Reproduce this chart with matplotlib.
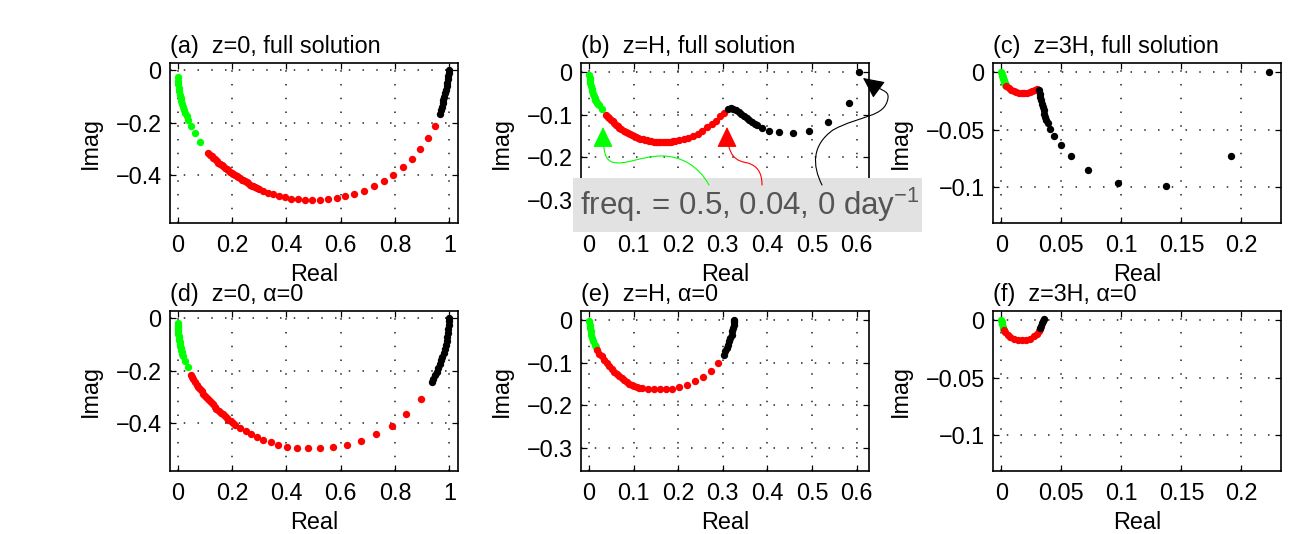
import matplotlib
matplotlib.use("Agg")
import matplotlib.pyplot as plt
from matplotlib.path import Path
from matplotlib.patches import FancyArrowPatch, Rectangle
from matplotlib.ticker import FixedLocator, FixedFormatter

plt.rcParams['font.family'] = ['Liberation Sans', 'DejaVu Sans']
plt.rcParams['mathtext.fontset'] = 'custom'
plt.rcParams['mathtext.rm'] = 'Liberation Sans'
plt.rcParams['mathtext.it'] = 'Liberation Sans:italic'
plt.rcParams['mathtext.bf'] = 'Liberation Sans:bold'

# ---------------------------------------------------------------- data
# (a) z=0, full solution
a_green_re = [0.000, 0.001, 0.002, 0.004, 0.006, 0.008, 0.011, 0.014, 0.017, 0.021, 0.025, 0.029, 0.033,
              0.038, 0.049, 0.063, 0.083]
a_green_im = [-0.027, -0.040, -0.053, -0.066, -0.080, -0.093, -0.106, -0.118, -0.129, -0.141, -0.152, -0.162, -0.173,
              -0.190, -0.212, -0.238, -0.273]
a_red_re = [0.113, 0.119, 0.125, 0.131, 0.137, 0.1435, 0.150, 0.156, 0.162, 0.168, 0.174, 0.180, 0.186, 0.1925,
            0.199, 0.205, 0.211, 0.217, 0.223, 0.2295, 0.236, 0.242, 0.248, 0.254, 0.260, 0.266, 0.272, 0.2785,
            0.285, 0.292, 0.299, 0.315, 0.334, 0.352, 0.373, 0.395, 0.418, 0.443, 0.469, 0.496, 0.524, 0.555,
            0.585, 0.617, 0.650, 0.685, 0.722, 0.759, 0.794, 0.828, 0.863, 0.893, 0.920, 0.946]
a_red_im = [-0.315, -0.3215, -0.328, -0.334, -0.340, -0.346, -0.352, -0.357, -0.362, -0.367, -0.372, -0.377, -0.382,
            -0.3865, -0.391, -0.3955, -0.400, -0.4045, -0.409, -0.413, -0.417, -0.4205, -0.424, -0.428, -0.432,
            -0.436, -0.440, -0.443, -0.446, -0.450, -0.454, -0.462, -0.468, -0.474, -0.479, -0.485, -0.490, -0.493,
            -0.495, -0.495, -0.495, -0.492, -0.487, -0.481, -0.472, -0.459, -0.442, -0.422, -0.398, -0.370, -0.338,
            -0.301, -0.259, -0.213]
a_black_re = [0.966, 0.969, 0.972, 0.975, 0.978, 0.981, 0.984, 0.987, 0.990, 0.992, 0.995, 0.997, 0.999, 1.000]
a_black_im = [-0.165, -0.152, -0.139, -0.126, -0.113, -0.100, -0.087, -0.074, -0.061, -0.048, -0.035, -0.022,
              -0.010, 0.000]

# (b) z=H, full solution
b_green_re = [0.0007, 0.0014, 0.0022, 0.0033, 0.0045, 0.0059, 0.0074, 0.0089, 0.0105, 0.0123, 0.0142, 0.0160,
              0.0180, 0.0205, 0.0231, 0.0285]
b_green_im = [-0.0057, -0.0124, -0.0190, -0.0257, -0.0324, -0.0387, -0.0450, -0.0505, -0.0560, -0.0608, -0.0655,
              -0.0687, -0.0718, -0.0749, -0.0780, -0.0875]
b_red_re = [0.0381, 0.0418, 0.0456, 0.0493, 0.0531, 0.0568, 0.0605, 0.0642, 0.0680, 0.0728, 0.0777, 0.0822,
            0.0867, 0.0912, 0.0957, 0.1005, 0.1054, 0.1102, 0.1151, 0.1203, 0.1256, 0.1305, 0.1353, 0.1400,
            0.1450, 0.1500, 0.1554, 0.1603, 0.1652, 0.1700, 0.1749, 0.1794, 0.1839, 0.1888, 0.1936, 0.2025,
            0.2123, 0.2227, 0.2332, 0.2437, 0.2527, 0.2639, 0.2751, 0.2848, 0.2937, 0.3027]
b_red_im = [-0.1002, -0.1041, -0.1080, -0.1119, -0.1158, -0.1194, -0.1230, -0.1265, -0.1300, -0.1336, -0.1371,
            -0.1400, -0.1428, -0.1452, -0.1475, -0.1499, -0.1522, -0.1541, -0.1560, -0.1577, -0.1593, -0.1605,
            -0.1617, -0.1624, -0.1631, -0.1636, -0.1641, -0.1641, -0.1641, -0.1641, -0.1641, -0.1636, -0.1631,
            -0.1624, -0.1617, -0.1593, -0.1570, -0.1537, -0.1499, -0.1445, -0.1371, -0.1293, -0.1215, -0.1135,
            -0.1040, -0.0955]
b_black_re = [0.3124, 0.3177, 0.3236, 0.3296, 0.3356, 0.3415, 0.3475, 0.3536, 0.3595, 0.3655, 0.3715, 0.3774,
              0.3879, 0.4043, 0.4267, 0.4567, 0.4926, 0.5366, 0.5823, 0.6047]
b_black_im = [-0.0860, -0.0844, -0.0860, -0.0898, -0.0946, -0.0993, -0.1040, -0.1087, -0.1128, -0.1168, -0.1206,
              -0.1246, -0.1317, -0.1371, -0.1411, -0.1428, -0.1371, -0.1175, -0.0726, 0.0000]

# (c) z=3H, full solution
c_green_re = [0.0000, 0.0003, 0.0006, 0.0010, 0.0014, 0.0018, 0.0022, 0.0027, 0.0033, 0.0038]
c_green_im = [0.0000, -0.0015, -0.0029, -0.0044, -0.0058, -0.0071, -0.0084, -0.0096, -0.0107, -0.0112]
c_red_re = [0.0042, 0.0061, 0.0081, 0.0103, 0.0125, 0.0147, 0.0169, 0.0192, 0.0214, 0.0236, 0.0258, 0.0281, 0.0300]
c_red_im = [-0.0116, -0.0135, -0.0152, -0.0165, -0.0174, -0.0180, -0.0183, -0.0183, -0.0180, -0.0174, -0.0165,
            -0.0155, -0.0148]
c_black_re = [0.0311, 0.0319, 0.0325, 0.0331, 0.0339, 0.0344, 0.0353, 0.0358, 0.0367, 0.0375, 0.0389, 0.0408,
              0.0442, 0.0494, 0.0581, 0.0725, 0.0969, 0.1369, 0.1911, 0.2231]
c_black_im = [-0.0156, -0.0185, -0.0214, -0.0243, -0.0272, -0.0301, -0.0329, -0.0359, -0.0387, -0.0411, -0.0441,
              -0.0491, -0.0557, -0.0634, -0.0731, -0.0847, -0.0959, -0.0985, -0.0731, 0.0000]

# (d) z=0, alpha=0
d_green_re = [0.000, 0.000, 0.000, 0.0005, 0.001, 0.0022, 0.0037, 0.0048, 0.006, 0.0072, 0.0085, 0.0103, 0.0122,
              0.014, 0.0158, 0.0176, 0.0195, 0.028, 0.0368]
d_green_im = [-0.019, -0.027, -0.0344, -0.042, -0.0497, -0.058, -0.0662, -0.0745, -0.0827, -0.0905, -0.098,
              -0.1063, -0.1147, -0.1225, -0.130, -0.137, -0.1438, -0.1618, -0.1847]
d_red_re = [0.048, 0.052, 0.0575, 0.064, 0.070, 0.076, 0.082, 0.088, 0.094, 0.100, 0.107, 0.114, 0.1215, 0.129,
            0.136, 0.143, 0.151, 0.158, 0.1657, 0.173, 0.180, 0.187, 0.195, 0.203, 0.211, 0.229, 0.250, 0.270,
            0.291, 0.315, 0.342, 0.370, 0.4035, 0.439, 0.4786, 0.524, 0.5707, 0.622, 0.675, 0.730, 0.789, 0.8417,
            0.8947]
d_red_im = [-0.2166, -0.224, -0.232, -0.243, -0.2535, -0.262, -0.271, -0.279, -0.2875, -0.296, -0.3045, -0.313,
            -0.321, -0.329, -0.3377, -0.345, -0.353, -0.360, -0.367, -0.374, -0.381, -0.387, -0.3935, -0.400,
            -0.4076, -0.417, -0.4295, -0.442, -0.452, -0.464, -0.474, -0.483, -0.4895, -0.4945, -0.497, -0.497,
            -0.493, -0.4845, -0.469, -0.4436, -0.410, -0.3656, -0.3098]
d_black_re = [0.935, 0.941, 0.947, 0.953, 0.959, 0.964, 0.969, 0.974, 0.979, 0.983, 0.987, 0.990, 0.993, 0.995,
              0.997, 0.999, 1.000, 1.000]
d_black_im = [-0.245, -0.232, -0.218, -0.204, -0.190, -0.176, -0.161, -0.146, -0.131, -0.116, -0.100, -0.085,
              -0.070, -0.055, -0.040, -0.025, -0.010, 0.000]

# (e) z=H, alpha=0
e_green_re = [0.0007, 0.0016, 0.0022, 0.0037, 0.0052, 0.0075, 0.0097, 0.0127, 0.0157]
e_green_im = [-0.0024, -0.0102, -0.0180, -0.0259, -0.0337, -0.0416, -0.0494, -0.0572, -0.0635]
e_red_re = [0.0187, 0.0231, 0.0284, 0.0336, 0.0396, 0.0448, 0.0509, 0.0561, 0.0620, 0.0673, 0.0733, 0.0785,
            0.0845, 0.0897, 0.0957, 0.1009, 0.1070, 0.1121, 0.1180, 0.1330, 0.1457, 0.1592, 0.1726, 0.1868,
            0.2018, 0.2190, 0.2377, 0.2563, 0.2735, 0.2900]
e_red_im = [-0.0690, -0.0785, -0.0847, -0.0937, -0.1004, -0.1087, -0.1137, -0.1212, -0.1255, -0.1322, -0.1357,
            -0.1404, -0.1451, -0.1498, -0.1522, -0.1553, -0.1570, -0.1592, -0.1592, -0.1608, -0.1616, -0.1616,
            -0.1616, -0.1608, -0.1576, -0.1514, -0.1435, -0.1333, -0.1184, -0.1004]
e_black_re = [0.3027, 0.3057, 0.3087, 0.3117, 0.3146, 0.3169, 0.3199, 0.3214, 0.3236, 0.3244, 0.3251, 0.3258]
e_black_im = [-0.0808, -0.0729, -0.0651, -0.0572, -0.0494, -0.0416, -0.0337, -0.0259, -0.0180, -0.0102, -0.0040,
              0.0016]

# (f) z=3H, alpha=0
f_green_re = [0.0000, 0.0003, 0.0006, 0.0011, 0.0017]
f_green_im = [0.0006, -0.0017, -0.0037, -0.0058, -0.0075]
f_red_re = [0.0019, 0.0033, 0.0053, 0.0075, 0.0103, 0.0136, 0.0172, 0.0208, 0.0242, 0.0275, 0.0297, 0.0317, 0.0325]
f_red_im = [-0.0081, -0.0104, -0.0127, -0.0145, -0.0159, -0.0168, -0.0171, -0.0168, -0.0159, -0.0141, -0.0121,
            -0.0095, -0.0075]
f_black_re = [0.0325, 0.0333, 0.0342, 0.0348, 0.0353]
f_black_im = [-0.0069, -0.0046, -0.0023, -0.0003, 0.0011]

# axis ticks
z0_xticks = [0, 0.2, 0.4, 0.6, 0.8, 1.0]
z0_xlabels = ['0', '0.2', '0.4', '0.6', '0.8', '1']
z0_yticks = [0, -0.2, -0.4]
z0_ylabels = ['0', '\u22120.2', '\u22120.4']
zH_xticks = [0, 0.1, 0.2, 0.3, 0.4, 0.5, 0.6]
zH_xlabels = ['0', '0.1', '0.2', '0.3', '0.4', '0.5', '0.6']
zH_yticks = [0, -0.1, -0.2, -0.3]
zH_ylabels = ['0', '\u22120.1', '\u22120.2', '\u22120.3']
z3H_xticks = [0, 0.05, 0.1, 0.15, 0.2]
z3H_xlabels = ['0', '0.05', '0.1', '0.15', '0.2']
z3H_yticks = [0, -0.05, -0.1]
z3H_ylabels = ['0', '\u22120.05', '\u22120.1']

titles = ['(a)  z=0, full solution', '(b)  z=H, full solution', '(c)  z=3H, full solution',
          '(d)  z=0, \u03b1=0', '(e)  z=H, \u03b1=0', '(f)  z=3H, \u03b1=0']

# ---------------------------------------------------------------- layout
W, H = 1303, 534
fig = plt.figure(figsize=(W / 100, H / 100), dpi=100)

col_left = [170, 581, 993]
row_top = [63, 311]
ax_w, ax_h = 288, 160

col_limits = [((-0.028, 1.032), (-0.583, 0.028)),
              ((-0.018, 0.628), (-0.355, 0.022)),
              ((-0.007, 0.233), (-0.131, 0.008))]
col_ticks = [(z0_xticks, z0_xlabels, z0_yticks, z0_ylabels),
             (zH_xticks, zH_xlabels, zH_yticks, zH_ylabels),
             (z3H_xticks, z3H_xlabels, z3H_yticks, z3H_ylabels)]

series = [
    [(a_green_re, a_green_im), (a_red_re, a_red_im), (a_black_re, a_black_im)],
    [(b_green_re, b_green_im), (b_red_re, b_red_im), (b_black_re, b_black_im)],
    [(c_green_re, c_green_im), (c_red_re, c_red_im), (c_black_re, c_black_im)],
    [(d_green_re, d_green_im), (d_red_re, d_red_im), (d_black_re, d_black_im)],
    [(e_green_re, e_green_im), (e_red_re, e_red_im), (e_black_re, e_black_im)],
    [(f_green_re, f_green_im), (f_red_re, f_red_im), (f_black_re, f_black_im)],
]
colors = ['#00ff00', '#ff0000', '#000000']

FS = 16.8
for k in range(6):
    row, col = divmod(k, 3)
    left = col_left[col] / W
    bottom = (H - row_top[row] - ax_h) / H
    ax = fig.add_axes([left, bottom, ax_w / W, ax_h / H])
    (xl, yl) = col_limits[col]
    xt, xtl, yt, ytl = col_ticks[col]
    ax.set_xlim(*xl)
    ax.set_ylim(*yl)
    ax.xaxis.set_major_locator(FixedLocator(xt))
    ax.xaxis.set_major_formatter(FixedFormatter(xtl))
    ax.yaxis.set_major_locator(FixedLocator(yt))
    ax.yaxis.set_major_formatter(FixedFormatter(ytl))
    ax.tick_params(direction='in', top=True, right=True, length=4, width=0.9,
                   labelsize=FS, color='k')
    ax.tick_params(axis='x', pad=8)
    ax.tick_params(axis='y', pad=6)
    ax.set_axisbelow(True)
    ax.grid(True, color='#222222', linewidth=1.1, linestyle=(0, (1, 8)))
    for sp in ax.spines.values():
        sp.set_linewidth(1.2)
        sp.set_color('k')
    for (re, im), c in zip(series[k], colors):
        ax.plot(re, im, linestyle='none', marker='o', markersize=5.3,
                markerfacecolor=c, markeredgewidth=0, clip_on=False)
    ax.set_title(titles[k], loc='left', fontsize=FS, pad=7)
    ax.set_xlabel('Real', fontsize=FS, labelpad=4)
    ax.set_ylabel('Imag', fontsize=FS, labelpad=10)


# ---------------------------------------------------------------- annotation
def fig_xy(x, y):
    return (x / W, 1 - y / H)


box = Rectangle(fig_xy(573, 232), (922 - 573) / W, (232 - 178) / H,
                transform=fig.transFigure, facecolor='#e2e2e2', edgecolor='none', zorder=5)
fig.add_artist(box)
fig.text(750 / W, 1 - 215 / H, 'freq. = 0.5, 0.04, 0 day$^{-1}$', ha='center', va='baseline',
         fontsize=22.5, color='#555555', zorder=7)

C4 = Path.CURVE4
arrow_paths = [
    ('#00ff00', [(709, 185), (698, 165), (680, 156), (662, 156),
                 (640, 156), (625, 166), (612, 162),
                 (605, 159), (603, 152), (603, 127)]),
    ('#ff0000', [(762, 185), (762, 172), (757, 166), (748, 163),
                 (736, 161), (727, 157), (727, 127)]),
    ('#000000', [(822, 185), (812, 165), (812, 145), (833, 130),
                 (860, 115), (885, 118), (888, 98),
                 (889, 90), (882, 92), (863, 78)]),
]
for color, pts in arrow_paths:
    verts = [fig_xy(x, y) for x, y in pts]
    codes = [Path.MOVETO] + [C4] * (len(verts) - 1)
    arr = FancyArrowPatch(path=Path(verts, codes), transform=fig.transFigure,
                          arrowstyle='-|>,head_length=13,head_width=6.3', mutation_scale=1,
                          color=color, linewidth=0.8, shrinkA=0, shrinkB=0, zorder=6)
    fig.add_artist(arr)

fig.savefig('out.png', dpi=100)
